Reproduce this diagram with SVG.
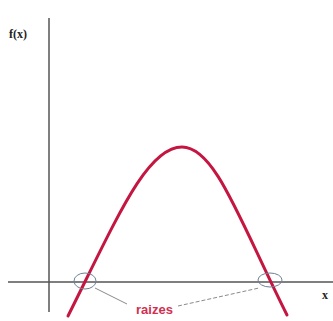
<svg xmlns="http://www.w3.org/2000/svg" width="333" height="321" viewBox="0 0 333 321">
<style>
.axis{stroke:#555;stroke-width:1.5;fill:none}
.curve{stroke:#c41640;stroke-width:3;fill:none;stroke-linecap:round}
.ring{stroke:#6f8090;stroke-width:1;fill:none}
.lead{stroke:#8a8a8a;stroke-width:1;fill:none}
.lbl{font-family:"Liberation Sans",Arial,sans-serif;font-weight:bold}
.ax{font-family:"Liberation Serif","Times New Roman",serif;font-weight:bold}
</style>
<rect width="333" height="321" fill="#ffffff"/>
<g id="axes">
<line class="axis" x1="49" y1="18" x2="49" y2="312"/>
<line class="axis" x1="8" y1="282" x2="333" y2="282"/>
<text class="ax" x="9" y="38" font-size="12" fill="#222">f(x)</text>
<text class="ax" x="322" y="299" font-size="12" fill="#222">x</text>
</g>
<g id="parabola">
<path class="curve" d="M68,316 C118,216 147,147 182,147 C215,147 239,219 287,315"/>
</g>
<g id="roots">
<ellipse class="ring" cx="85" cy="281" rx="11" ry="8"/>
<ellipse class="ring" cx="270" cy="280" rx="12" ry="7"/>
</g>
<g id="connectors">
<line class="lead" x1="95" y1="288" x2="127" y2="304"/>
<line class="lead" x1="178" y1="306" x2="259" y2="288" stroke-dasharray="4 2"/>
</g>
<g id="label">
<text class="lbl" x="136" y="314" font-size="13" fill="#d03050">raizes</text>
</g>
</svg>
